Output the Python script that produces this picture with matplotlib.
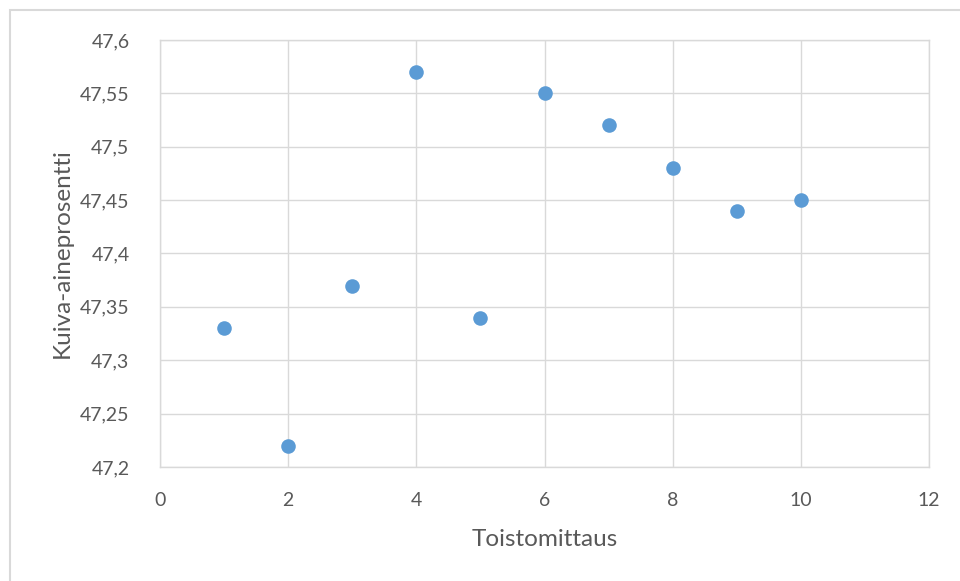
import matplotlib.pyplot as plt
from matplotlib.patches import Rectangle
from matplotlib.ticker import FuncFormatter, MultipleLocator

# Toistomittaukset ja kuiva-aineprosentit
measurement = [1, 2, 3, 4, 5, 6, 7, 8, 9, 10]
dry_matter = [47.33, 47.22, 47.37, 47.57, 47.34, 47.55, 47.52, 47.48, 47.44, 47.45]

plt.rcParams['font.family'] = ['Lato', 'DejaVu Sans']

fig = plt.figure(figsize=(9.6, 5.81), dpi=100)
ax = fig.add_axes([160 / 960, 1 - 467 / 581, (929 - 160) / 960, (467 - 40) / 581])

# kehys kuvan ympärille
fig.patches.append(Rectangle((9.5 / 960, -0.1), 1.0, 1 - 10 / 581 + 0.1,
                             transform=fig.transFigure, fill=False,
                             edgecolor='#d9d9d9', linewidth=1.5))

ax.scatter(measurement, dry_matter, s=110, color='#5b9bd5', zorder=3, linewidths=0)

ax.set_xlim(0, 12)
ax.set_ylim(47.2, 47.6)
ax.xaxis.set_major_locator(MultipleLocator(2))
ax.yaxis.set_major_locator(MultipleLocator(0.05))
ax.yaxis.set_major_formatter(FuncFormatter(lambda v, p: f"{v:.2f}".rstrip('0').rstrip('.').replace('.', ',')))

ax.grid(True, color='#d9d9d9', linewidth=1)
ax.set_axisbelow(True)
for s in ax.spines.values():
    s.set_color('#d9d9d9')
    s.set_linewidth(1)

ax.tick_params(length=0, labelsize=14, labelcolor='#595959')
ax.tick_params(axis='y', pad=22)
ax.tick_params(axis='x', pad=18)

ax.set_xlabel('Toistomittaus', fontsize=17.5, color='#595959', va='center')
ax.set_ylabel('Kuiva-aineprosentti', fontsize=17.5, color='#595959', va='center')
ax.xaxis.set_label_coords(0.5, (467 - 540) / 427)
ax.yaxis.set_label_coords((62 - 160) / 769, 0.5)

fig.savefig('out.png', dpi=100)
